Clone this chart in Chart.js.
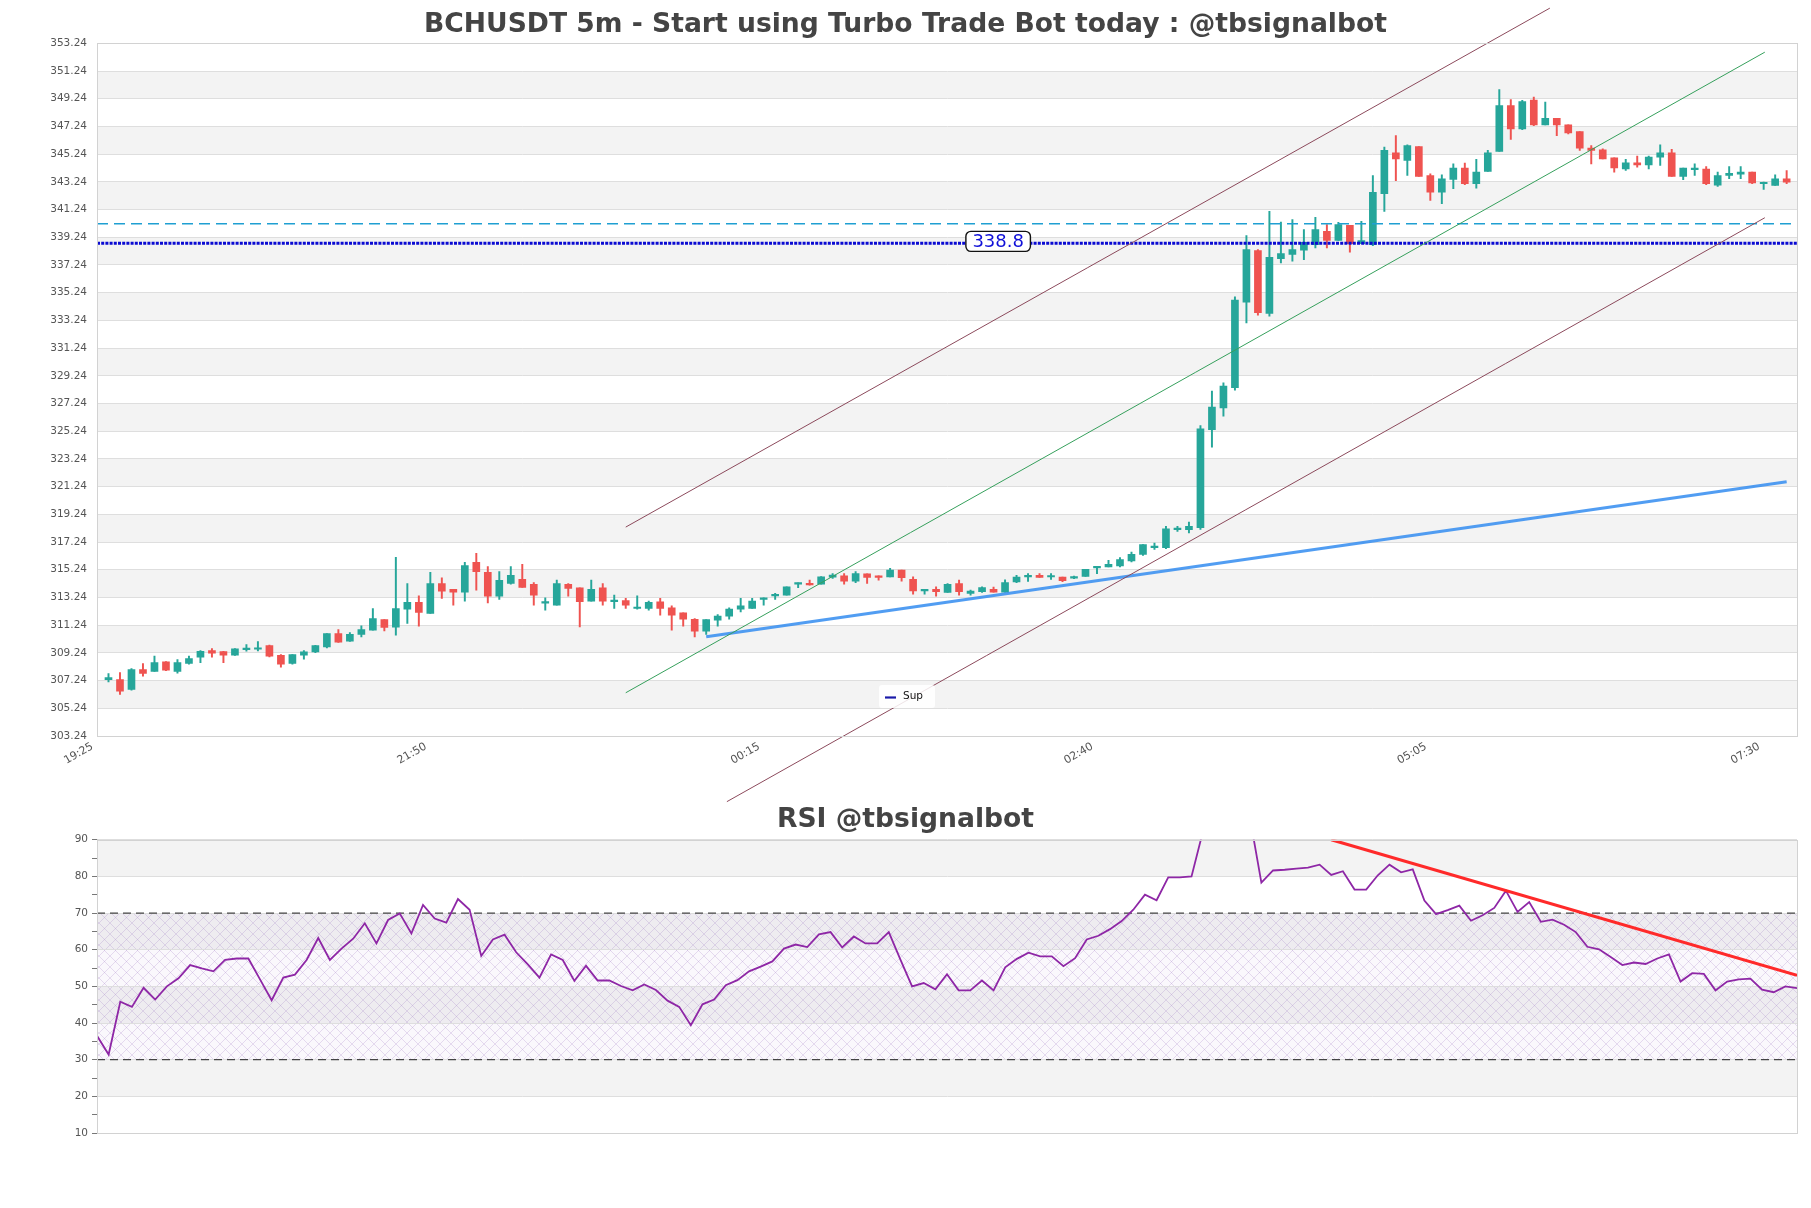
<!DOCTYPE html>
<html>
<head>
<meta charset="utf-8">
<script src="https://cdn.jsdelivr.net/npm/chart.js@4.4.0/dist/chart.umd.min.js"></script>
<style>
    html, body { margin: 0; padding: 0; background: #ffffff; }
    #wrap { position: relative; width: 1811px; height: 1208px; overflow: hidden; }
    #priceChart { position: absolute; left: 0; top: 0; }
    #rsiChart { position: absolute; left: 0; top: 780px; }
</style>
</head>
<body>
<div id="wrap">
    <canvas id="priceChart" width="1811" height="830"></canvas>
    <canvas id="rsiChart" width="1811" height="428"></canvas>
</div>
<script>
const TITLE = 'BCHUSDT 5m - Start using Turbo Trade Bot today : @tbsignalbot';
const RSI_TITLE = 'RSI @tbsignalbot';

const TIME_LABELS = ['19:25', '21:50', '00:15', '02:40', '05:05', '07:30'];
const TIME_TICK_INDEX = [0, 29, 58, 87, 116, 145];

const PRICE_TICKS = [303.24, 305.24, 307.24, 309.24, 311.24, 313.24, 315.24, 317.24, 319.24,
    321.24, 323.24, 325.24, 327.24, 329.24, 331.24, 333.24, 335.24, 337.24, 339.24, 341.24,
    343.24, 345.24, 347.24, 349.24, 351.24, 353.24];
const RSI_GRID = [10, 20, 30, 40, 50, 60, 70, 80, 90];
const RSI_LEVELS = [70, 30];

// 5m candles, one per index
const OPEN = [307.30,307.31,306.61,308.04,307.91,308.59,307.91,308.47,308.93,309.41,
    309.34,309.07,309.48,309.50,309.77,309.07,308.47,309.07,309.31,309.67,
    310.64,310.08,310.57,310.88,311.65,311.10,312.40,312.88,312.08,314.25,
    313.82,313.63,315.77,315.05,313.34,314.25,314.54,314.18,312.83,312.69,
    314.18,313.94,312.97,313.94,312.93,313.02,312.44,312.44,312.93,312.49,
    312.13,311.67,310.81,311.60,311.89,312.40,312.44,313.10,313.36,313.41,
    314.20,314.25,314.20,314.71,314.81,314.42,314.95,314.81,314.73,315.22,
    314.54,313.72,313.82,313.60,314.25,313.53,313.65,313.83,313.63,314.36,
    314.72,314.84,314.72,314.72,314.64,314.76,315.38,315.44,315.51,315.87,
    316.35,316.83,316.83,318.13,318.13,318.27,325.36,326.93,328.38,334.56,
    338.28,333.74,337.70,338.01,338.30,338.71,339.67,339.02,340.10,338.78,
    338.71,342.39,345.34,344.78,345.79,343.70,342.50,343.41,344.23,343.10,
    343.99,345.43,348.75,347.06,349.15,347.35,347.83,347.35,346.87,345.67,
    345.55,344.97,344.18,344.61,344.47,345.02,345.34,343.63,344.11,344.16,
    343.00,343.70,343.80,343.94,343.10,342.98,343.46];
const HIGH = [307.74,307.82,308.10,308.47,309.00,308.62,308.76,309.00,309.41,309.55,
    309.36,309.55,309.84,310.06,309.80,309.12,309.12,309.41,309.79,310.64,
    310.93,310.71,311.19,312.44,311.65,316.13,314.25,313.36,315.05,314.66,
    313.82,315.77,316.42,315.46,315.10,315.46,315.63,314.32,313.22,314.49,
    314.25,313.94,314.49,314.25,313.41,313.17,313.36,312.97,313.17,312.64,
    312.13,311.72,311.65,312.01,312.49,313.17,313.17,313.22,313.53,314.01,
    314.30,314.49,314.75,314.97,314.97,315.10,314.95,314.81,315.34,315.22,
    314.73,313.82,314.01,314.25,314.49,313.77,314.01,313.99,314.52,314.84,
    314.96,314.96,314.96,314.72,314.79,315.27,315.45,315.92,316.11,316.52,
    317.05,317.17,318.37,318.37,318.68,325.65,328.13,328.73,334.94,339.36,
    338.35,341.11,340.34,340.51,339.79,340.68,340.15,340.32,340.10,340.39,
    343.70,345.75,346.58,345.91,345.79,343.82,343.75,344.54,344.59,344.86,
    345.51,349.90,349.18,349.13,349.35,348.99,347.83,347.35,346.87,345.86,
    345.62,344.97,344.86,345.10,345.10,345.91,345.58,344.23,344.54,344.35,
    343.94,344.35,344.35,343.94,343.22,343.75,344.06];
const LOW = [307.14,306.25,306.55,307.55,307.90,307.95,307.77,308.42,308.54,308.93,
    308.54,309.05,309.36,309.38,308.95,308.20,308.42,308.78,309.26,309.60,
    310.00,310.07,310.40,310.88,310.83,310.52,311.36,311.17,312.08,313.17,
    312.69,312.97,313.77,312.85,313.10,314.20,313.96,312.69,312.32,312.69,
    313.34,311.12,312.97,312.69,312.44,312.44,312.40,312.32,311.96,310.88,
    311.17,310.40,310.57,311.17,311.67,312.20,312.44,312.69,313.10,313.41,
    313.94,314.12,314.20,314.61,314.20,314.30,314.25,314.49,314.73,314.42,
    313.48,313.48,313.34,313.60,313.41,313.41,313.60,313.63,313.63,314.31,
    314.40,314.69,314.55,314.38,314.60,314.76,314.96,315.44,315.44,315.80,
    316.28,316.71,316.76,318.01,317.89,318.15,324.09,326.33,328.21,333.06,
    333.62,333.55,337.39,337.51,337.63,338.47,338.47,339.02,338.16,338.78,
    338.63,341.11,343.32,343.70,343.63,341.90,341.66,342.74,343.03,342.79,
    343.99,345.43,346.30,347.01,347.30,347.35,346.58,346.70,345.50,344.54,
    344.90,343.94,344.06,344.30,344.18,344.42,343.63,343.39,343.70,343.03,
    342.91,343.46,343.46,343.10,342.70,342.98,343.10];
const CLOSE = [307.45,306.47,308.04,307.75,308.54,307.99,308.54,308.83,309.36,309.22,
    309.07,309.53,309.55,309.60,309.00,308.42,309.12,309.31,309.77,310.64,
    310.01,310.57,310.93,311.72,311.07,312.44,312.88,312.16,314.25,313.70,
    313.63,315.55,315.10,313.34,314.47,314.83,313.96,313.41,312.90,314.25,
    313.89,312.93,313.82,312.97,313.05,312.69,312.54,312.88,312.44,311.96,
    311.67,310.81,311.65,311.89,312.40,312.64,312.97,313.20,313.46,314.01,
    314.30,314.15,314.73,314.85,314.42,314.97,314.69,314.69,315.22,314.66,
    313.72,313.82,313.65,314.18,313.65,313.70,313.96,313.63,314.31,314.72,
    314.84,314.69,314.80,314.45,314.74,315.27,315.45,315.63,315.97,316.35,
    317.05,316.95,318.20,318.25,318.37,325.41,326.98,328.49,334.70,338.35,
    333.79,337.80,338.06,338.35,338.88,339.79,339.02,340.15,338.78,339.00,
    342.48,345.51,344.90,345.86,343.63,342.50,343.46,344.23,343.10,343.94,
    345.34,348.75,347.06,349.03,347.35,347.83,347.35,346.78,345.67,345.50,
    344.90,344.25,344.61,344.47,345.02,345.34,343.63,344.23,344.23,343.10,
    343.70,343.85,343.94,343.17,343.17,343.46,343.22];

const RSI = [36.5,31.4,45.8,44.4,49.6,46.4,50.0,52.2,55.8,54.9,
    54.1,57.2,57.6,57.6,51.9,46.2,52.4,53.2,57.2,63.2,
    57.2,60.3,63.0,67.2,61.7,68.1,69.9,64.4,72.2,68.5,
    67.4,73.8,70.9,58.3,62.8,64.1,59.3,56.0,52.4,58.7,
    57.2,51.5,55.6,51.6,51.6,50.1,48.9,50.5,49.0,46.1,
    44.4,39.4,45.1,46.4,50.3,51.7,54.1,55.4,56.8,60.3,
    61.4,60.7,64.2,64.8,60.6,63.6,61.7,61.7,64.8,57.3,
    50.0,50.9,49.2,53.3,48.9,48.9,51.6,48.9,55.2,57.5,
    59.2,58.2,58.2,55.5,57.7,62.8,63.8,65.6,67.8,70.9,
    75.0,73.5,79.7,79.7,80.0,92.5,94.0,95.0,96.5,96.3,
    78.3,81.6,81.8,82.1,82.4,83.2,80.4,81.4,76.4,76.4,
    80.3,83.2,81.1,81.9,73.4,69.7,70.8,72.0,67.9,69.4,
    71.4,76.1,70.3,73.0,67.6,68.2,66.8,64.8,60.8,60.1,
    58.0,55.8,56.5,56.1,57.6,58.7,51.3,53.6,53.4,48.9,
    51.3,51.9,52.1,49.1,48.4,50.0,49.5];

// drawn lines, in (candle index, price) units
const UPPER_CHANNEL = [{ x: 45, y: 318.32 }, { x: 125.4, y: 355.78 }];
const MID_CHANNEL = [{ x: 45, y: 306.36 }, { x: 144.1, y: 352.6 }];
const LOWER_CHANNEL = [{ x: 53.8, y: 298.5 }, { x: 144.1, y: 340.65 }];
const SUPPORT_TREND = [{ x: 52, y: 310.4 }, { x: 146, y: 321.6 }];
const SUPPORT_LEVEL = 338.8;
const RESIST_LEVEL = 340.22;
const RSI_TREND = [{ x: 106, y: 90 }, { x: 146, y: 53 }];

const X_MIN = -1;
const X_MAX = 146.9;
const LEVEL_LABEL_X = 77.4;

const UP = '#26a69a';
const DOWN = '#ef5350';
const GRID = '#dedede';
const BAND = '#f3f3f3';
const FRAME = '#d2d2d2';

Chart.defaults.font.family = "'DejaVu Sans', sans-serif";

const bandsPlugin = {
    id: 'bands',
    beforeDraw(chart, args, opts) {
        const { ctx, chartArea: a, scales: { y } } = chart;
        const edges = opts.edges;
        ctx.save();
        ctx.fillStyle = opts.color;
        for (let j = 1; j < edges.length - 1; j += 2) {
            const top = y.getPixelForValue(edges[j + 1]);
            const bottom = y.getPixelForValue(edges[j]);
            ctx.fillRect(a.left, top, a.right - a.left, bottom - top);
        }
        ctx.restore();
    }
};

// figure-level title, centred on the whole canvas like the original
const figTitlePlugin = {
    id: 'figTitle',
    afterDraw(chart, args, opts) {
        const { ctx } = chart;
        ctx.save();
        ctx.font = "bold 26.6px 'DejaVu Sans', sans-serif";
        ctx.fillStyle = '#444444';
        ctx.textAlign = 'center';
        ctx.textBaseline = 'middle';
        ctx.fillText(opts.text, chart.width / 2, opts.y);
        ctx.restore();
    }
};

const framePlugin = {
    id: 'frame',
    afterDraw(chart) {
        const { ctx, chartArea: a } = chart;
        ctx.save();
        ctx.strokeStyle = FRAME;
        ctx.lineWidth = 1;
        ctx.strokeRect(Math.round(a.left) + 0.5, Math.round(a.top) + 0.5,
            Math.round(a.right - a.left), Math.round(a.bottom - a.top));
        ctx.restore();
    }
};

function roundRect(ctx, x, y, w, h, r) {
    ctx.beginPath();
    ctx.moveTo(x + r, y);
    ctx.arcTo(x + w, y, x + w, y + h, r);
    ctx.arcTo(x + w, y + h, x, y + h, r);
    ctx.arcTo(x, y + h, x, y, r);
    ctx.arcTo(x, y, x + w, y, r);
    ctx.closePath();
}

const levelLabelPlugin = {
    id: 'levelLabel',
    afterDatasetsDraw(chart) {
        const { ctx, scales: { x, y } } = chart;
        const cx = x.getPixelForValue(LEVEL_LABEL_X);
        const cy = y.getPixelForValue(SUPPORT_LEVEL) - 2;
        const text = SUPPORT_LEVEL.toFixed(1);
        ctx.save();
        ctx.font = "18px 'DejaVu Sans', sans-serif";
        const w = ctx.measureText(text).width + 13;
        const h = 20;
        roundRect(ctx, cx - w / 2, cy - h / 2, w, h, 5);
        ctx.fillStyle = '#ffffff';
        ctx.fill();
        ctx.lineWidth = 1.4;
        ctx.strokeStyle = '#111111';
        ctx.stroke();
        ctx.fillStyle = '#1010d8';
        ctx.textAlign = 'center';
        ctx.textBaseline = 'middle';
        ctx.fillText(text, cx, cy + 1);

        // legend box
        const a = chart.chartArea;
        const lx = a.left + 782, ly = a.bottom - 51;
        roundRect(ctx, lx, ly, 56, 23, 3);
        ctx.fillStyle = 'rgba(255,255,255,0.85)';
        ctx.fill();
        ctx.strokeStyle = '#1a1aa8';
        ctx.lineWidth = 2.2;
        ctx.beginPath();
        ctx.moveTo(lx + 6, ly + 12.5);
        ctx.lineTo(lx + 17, ly + 12.5);
        ctx.stroke();
        ctx.fillStyle = '#111111';
        ctx.font = "10.5px 'DejaVu Sans', sans-serif";
        ctx.textAlign = 'left';
        ctx.fillText('Sup', lx + 24, ly + 11.5);
        ctx.restore();
    }
};

const zonePlugin = {
    id: 'zone',
    beforeDraw(chart, args, opts) {
        const { ctx, chartArea: a, scales: { y } } = chart;
        const tile = document.createElement('canvas');
        tile.width = 11;
        tile.height = 11;
        const g = tile.getContext('2d');
        g.strokeStyle = 'rgba(150,110,190,0.28)';
        g.lineWidth = 0.8;
        g.beginPath();
        g.moveTo(0, 0); g.lineTo(11, 11);
        g.moveTo(11, 0); g.lineTo(0, 11);
        g.stroke();
        const top = y.getPixelForValue(opts.to);
        const bottom = y.getPixelForValue(opts.from);
        ctx.save();
        ctx.fillStyle = 'rgba(160,120,200,0.05)';
        ctx.fillRect(a.left, top, a.right - a.left, bottom - top);
        ctx.fillStyle = ctx.createPattern(tile, 'repeat');
        ctx.fillRect(a.left, top, a.right - a.left, bottom - top);
        ctx.restore();
    }
};

const colors = OPEN.map((o, i) => (CLOSE[i] >= o ? UP : DOWN));
const bodies = OPEN.map((o, i) => ({ x: i, y: [o, CLOSE[i]] }));
const wicks = LOW.map((l, i) => ({ x: i, y: [l, HIGH[i]] }));
const span = v => [{ x: X_MIN, y: v }, { x: X_MAX, y: v }];

function lineSet(data, color, width, extra) {
    return Object.assign({
        type: 'line', data, borderColor: color, borderWidth: width,
        pointRadius: 0, fill: false, tension: 0, order: 1
    }, extra || {});
}

new Chart(document.getElementById('priceChart'), {
    type: 'bar',
    data: {
        datasets: [
            lineSet(UPPER_CHANNEL, '#8c4a5c', 1, { clip: false }),
            lineSet(MID_CHANNEL, '#36a05c', 1, { clip: false }),
            lineSet(LOWER_CHANNEL, '#8c4a5c', 1, { clip: false }),
            lineSet(SUPPORT_TREND, 'rgba(50,140,240,0.85)', 3),
            lineSet(span(RESIST_LEVEL), '#1f9fd2', 1.5, { borderDash: [11, 6] }),
            lineSet(span(SUPPORT_LEVEL), '#0a0ad2', 3, { borderDash: [3, 1.2] }),
            {
                data: bodies, backgroundColor: colors, borderWidth: 0,
                barThickness: 7, minBarLength: 1.5, grouped: false, order: 2
            },
            {
                data: wicks, backgroundColor: colors, borderWidth: 0,
                barThickness: 1.3, grouped: false, order: 3
            }
        ]
    },
    options: {
        responsive: false,
        animation: false,
        events: [],
        layout: { padding: { top: 43.3, right: 14 } },
        plugins: {
            legend: { display: false },
            tooltip: { enabled: false },
            title: { display: false },
            figTitle: { text: TITLE, y: 25 },
            bands: { edges: PRICE_TICKS, color: BAND }
        },
        scales: {
            x: {
                type: 'linear', min: X_MIN, max: X_MAX, offset: false,
                afterBuildTicks: s => { s.ticks = TIME_TICK_INDEX.map(v => ({ value: v })); },
                afterFit: s => { s.height = 94; },
                grid: { display: false },
                border: { display: true, color: FRAME },
                ticks: {
                    autoSkip: false, minRotation: 30, maxRotation: 30,
                    labelOffset: -16, padding: -4, color: '#555555',
                    font: { size: 11 },
                    callback: (v, i) => TIME_LABELS[i]
                }
            },
            y: {
                min: PRICE_TICKS[0], max: PRICE_TICKS[PRICE_TICKS.length - 1],
                afterBuildTicks: s => { s.ticks = PRICE_TICKS.map(v => ({ value: v })); },
                afterFit: s => { s.width = 97; },
                grid: { color: GRID, drawTicks: false },
                border: { color: FRAME },
                ticks: {
                    autoSkip: false, padding: 10, color: '#555555',
                    font: { size: 10.5 },
                    callback: v => Number(v).toFixed(2)
                }
            }
        }
    },
    plugins: [bandsPlugin, framePlugin, levelLabelPlugin, figTitlePlugin]
});

new Chart(document.getElementById('rsiChart'), {
    type: 'line',
    data: {
        datasets: [
            lineSet(RSI_TREND, '#ff2a2a', 3, { order: 0 }),
            lineSet(RSI.map((v, i) => ({ x: i, y: v })), '#8e27a6', 1.8, { order: 1 }),
            ...RSI_LEVELS.map(v => lineSet([{ x: 0, y: v }, { x: RSI.length - 1, y: v }],
                '#444444', 1.2, { borderDash: [8, 5], order: 2 }))
        ]
    },
    options: {
        responsive: false,
        animation: false,
        events: [],
        layout: { padding: { top: 59.7, right: 14 } },
        plugins: {
            legend: { display: false },
            tooltip: { enabled: false },
            title: { display: false },
            figTitle: { text: RSI_TITLE, y: 40 },
            bands: { edges: RSI_GRID, color: BAND },
            zone: { from: RSI_LEVELS[1], to: RSI_LEVELS[0] }
        },
        scales: {
            x: {
                type: 'linear', min: 0, max: RSI.length - 1,
                ticks: { display: false },
                grid: { display: false },
                border: { display: true, color: FRAME },
                afterFit: s => { s.height = 75; }
            },
            y: {
                min: RSI_GRID[0], max: RSI_GRID[RSI_GRID.length - 1],
                afterFit: s => { s.width = 97; },
                grid: {
                    color: c => (c.tick && c.tick.value % 10 === 0 ? GRID : 'rgba(0,0,0,0)'),
                    tickColor: '#777777', tickLength: 5
                },
                border: { color: FRAME },
                ticks: {
                    stepSize: 5, autoSkip: false, padding: 4, color: '#555555',
                    font: { size: 10.5 },
                    callback: v => (v % 10 === 0 ? String(v) : '')
                }
            }
        }
    },
    plugins: [bandsPlugin, zonePlugin, framePlugin, figTitlePlugin]
});
</script>
</body>
</html>
